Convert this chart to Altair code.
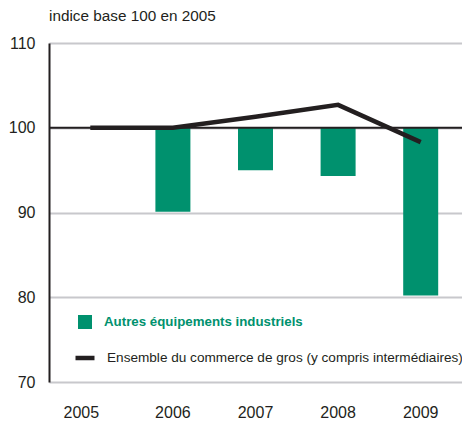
import altair as alt
import pandas as pd

years = ["2005", "2006", "2007", "2008", "2009"]
autres_equip = [100, 90.1, 95.0, 94.3, 80.2]
ensemble = [100, 100, 101.3, 102.7, 98.3]
y_ticks = [70, 80, 90, 100, 110]

bar_name = "Autres équipements industriels"
line_name = "Ensemble du commerce de gros (y compris intermédiaires)"

FONT = "Liberation Sans, Arial, sans-serif"
GREEN = "#00916E"
DARK = "#231f20"

df = pd.DataFrame({
    "year": years,
    "bar": autres_equip,
    "line": ensemble,
    "base": [100] * len(years),
    "bs": [bar_name] * len(years),
    "ls": [line_name] * len(years),
})

x = alt.X("year:O", title=None,
          scale=alt.Scale(paddingInner=0, paddingOuter=0),
          axis=alt.Axis(labelAngle=0, domain=False, ticks=False, tickSize=0,
                        labelPadding=22, labelFontSize=16, labelFont=FONT,
                        labelColor=DARK, grid=False,
                        labelOffset={"condition": {"test": "datum.value == '2005'", "value": -9},
                                     "value": 0}))

yscale = alt.Scale(domain=[70, 110], nice=False, zero=False)

base = alt.Chart(df)

bars = base.mark_bar(size=35).encode(
    x=x,
    y=alt.Y("bar:Q", scale=yscale, title=None,
            axis=alt.Axis(values=y_ticks, ticks=False, tickSize=0, labelPadding=14,
                          labelFontSize=16, labelFont=FONT, labelColor=DARK,
                          domain=True, domainColor=DARK, domainWidth=2,
                          grid=True, gridColor="#c8c8cc", gridWidth=2)),
    y2="base:Q",
    fill=alt.Fill("bs:N", scale=alt.Scale(range=[GREEN]),
                  legend=alt.Legend(title=None, orient="none", legendX=29, legendY=272,
                                    symbolType="square", symbolSize=196,
                                    symbolStrokeWidth=0, labelOffset=12,
                                    labelFont=FONT, labelFontSize=13.3,
                                    labelFontWeight="bold", labelColor=GREEN,
                                    labelLimit=400)),
)

rule = base.mark_rule(color=DARK, strokeWidth=2).encode(
    y=alt.Y("y100:Q", scale=yscale),
).transform_filter(alt.datum.year == "2005").transform_calculate(y100="100")

line = base.mark_line(strokeWidth=4.5).encode(
    x=x,
    y=alt.Y("line:Q", scale=yscale),
    stroke=alt.Stroke("ls:N", scale=alt.Scale(range=[DARK]),
                      legend=alt.Legend(title=None, orient="none", legendX=24, legendY=303,
                                        symbolType="stroke", symbolSize=361,
                                        symbolStrokeWidth=4.5, labelOffset=10,
                                        labelFont=FONT, labelFontSize=13.6,
                                        labelColor=DARK, labelLimit=400)),
)

chart = alt.layer(bars, rule, line).properties(
    width=413,
    height=339,
    autosize=alt.AutoSizeParams(type="none"),
    padding={"left": 41, "top": 35, "right": 0, "bottom": 39},
    title=alt.TitleParams("indice base 100 en 2005", anchor="start", frame="group",
                          fontSize=15.3, font=FONT, fontWeight="normal", color=DARK,
                          offset=11),
).configure_view(stroke=None)

chart.save("out.html", embed_options={"renderer": "svg", "actions": False})
